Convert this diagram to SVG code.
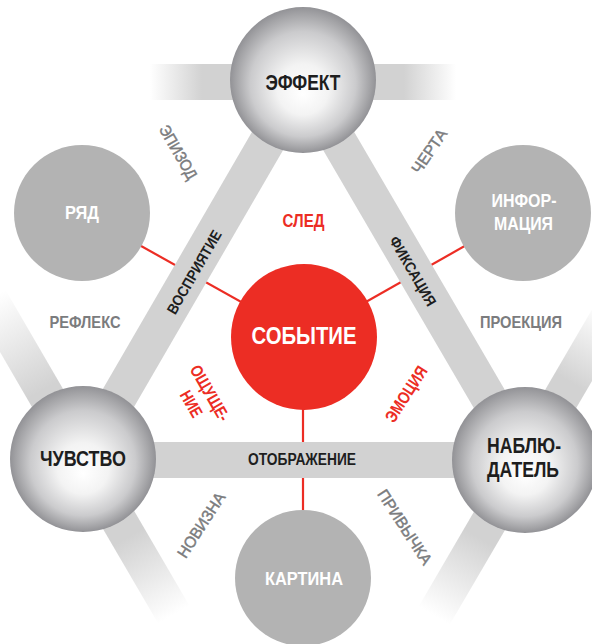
<svg xmlns="http://www.w3.org/2000/svg" width="592" height="644" viewBox="0 0 592 644">
<style>
  text { font-family: "Liberation Sans Narrow", "Liberation Sans", Arial, sans-serif; text-anchor: middle; }
  .band { stroke: #d2d2d2; stroke-width: 36; fill: none; }
  .redline { stroke: #ec2d24; stroke-width: 2.2; fill: none; }
  .sphere { fill: url(#sph); }
  .gray { fill: #b3b3b3; }
  .red { fill: #ec2d24; }
  .dark { fill: #1e1e1e; font-weight: bold; }
  .white { fill: #ffffff; font-weight: bold; }
  .rlab { fill: #ec2d24; font-weight: bold; }
  .glab { fill: #7b7c7e; stroke: #7b7c7e; stroke-width: 0.45; }
  .glabb { fill: #7b7c7e; font-weight: bold; }
</style>
<defs>
  <radialGradient id="sph" cx="50%" cy="50%" r="50%" fx="50%" fy="60%">
    <stop offset="0" stop-color="#ffffff"/>
    <stop offset="0.35" stop-color="#f3f3f3"/>
    <stop offset="0.72" stop-color="#cbcbcd"/>
    <stop offset="0.92" stop-color="#a3a3a6"/>
    <stop offset="1" stop-color="#929296"/>
  </radialGradient>
  <linearGradient id="gTop" gradientUnits="userSpaceOnUse" x1="150" y1="0" x2="456" y2="0">
    <stop offset="0" stop-color="#d2d2d2" stop-opacity="0"/>
    <stop offset="0.17" stop-color="#d2d2d2" stop-opacity="1"/>
    <stop offset="0.83" stop-color="#d2d2d2" stop-opacity="1"/>
    <stop offset="1" stop-color="#d2d2d2" stop-opacity="0"/>
  </linearGradient>
  <linearGradient id="gLU" gradientUnits="userSpaceOnUse" x1="83" y1="459" x2="-17" y2="287">
    <stop offset="0.4" stop-color="#d2d2d2" stop-opacity="1"/>
    <stop offset="0.93" stop-color="#d2d2d2" stop-opacity="0"/>
  </linearGradient>
  <linearGradient id="gLD" gradientUnits="userSpaceOnUse" x1="83" y1="459" x2="184" y2="632">
    <stop offset="0.45" stop-color="#d2d2d2" stop-opacity="1"/>
    <stop offset="0.9" stop-color="#d2d2d2" stop-opacity="0"/>
  </linearGradient>
  <linearGradient id="gRU" gradientUnits="userSpaceOnUse" x1="525" y1="460" x2="626" y2="287">
    <stop offset="0.45" stop-color="#d2d2d2" stop-opacity="1"/>
    <stop offset="0.85" stop-color="#d2d2d2" stop-opacity="0"/>
  </linearGradient>
  <linearGradient id="gRD" gradientUnits="userSpaceOnUse" x1="525" y1="460" x2="424" y2="633">
    <stop offset="0.45" stop-color="#d2d2d2" stop-opacity="1"/>
    <stop offset="0.9" stop-color="#d2d2d2" stop-opacity="0"/>
  </linearGradient>
</defs>
<rect x="0" y="0" width="592" height="644" fill="#ffffff"/>

<g id="connectors">
  <line class="redline" x1="304" y1="337" x2="82" y2="213"/>
  <line class="redline" x1="304" y1="337" x2="523" y2="213"/>
  <line class="redline" x1="303" y1="337" x2="303" y2="578"/>
  <line x1="150" y1="82" x2="456" y2="82" stroke="url(#gTop)" stroke-width="36"/>
  <line x1="83" y1="459" x2="-17" y2="287" stroke="url(#gLU)" stroke-width="36"/>
  <line x1="83" y1="459" x2="184" y2="632" stroke="url(#gLD)" stroke-width="36"/>
  <line x1="525" y1="460" x2="626" y2="287" stroke="url(#gRU)" stroke-width="36"/>
  <line x1="525" y1="460" x2="424" y2="633" stroke="url(#gRD)" stroke-width="36"/>
  <line class="band" x1="303" y1="80" x2="83" y2="459"/>
  <line class="band" x1="303" y1="80" x2="525" y2="460"/>
  <line class="band" x1="83" y1="460" x2="525" y2="460"/>
</g>

<g id="edge-labels">
  <text class="dark" font-size="15" transform="translate(194,272) rotate(-60)" x="0" y="5.4" textLength="94" lengthAdjust="spacingAndGlyphs">ВОСПРИЯТИЕ</text>
  <text class="dark" font-size="15" transform="translate(413,271) rotate(60)" x="0" y="5.4" textLength="78" lengthAdjust="spacingAndGlyphs">ФИКСАЦИЯ</text>
  <text class="dark" font-size="16" x="302" y="465" textLength="108" lengthAdjust="spacingAndGlyphs">ОТОБРАЖЕНИЕ</text>
  <text class="rlab" font-size="18" x="303.5" y="227" textLength="42" lengthAdjust="spacingAndGlyphs">СЛЕД</text>
  <g transform="translate(210,393) rotate(60)">
    <text class="rlab" font-size="17" x="0" y="6" textLength="62" lengthAdjust="spacingAndGlyphs">ОЩУЩЕ-</text>
    <text class="rlab" font-size="17" x="0" y="27.5" textLength="28" lengthAdjust="spacingAndGlyphs">НИЕ</text>
  </g>
  <text class="rlab" font-size="17" transform="translate(406,394) rotate(-57)" x="0" y="6" textLength="63" lengthAdjust="spacingAndGlyphs">ЭМОЦИЯ</text>
  <text class="glab" font-size="16" transform="translate(178.5,152) rotate(60)" x="0" y="5.8" textLength="60" lengthAdjust="spacingAndGlyphs">ЭПИЗОД</text>
  <text class="glab" font-size="16" transform="translate(429,151) rotate(-56)" x="0" y="5.8" textLength="50" lengthAdjust="spacingAndGlyphs">ЧЕРТА</text>
  <text class="glab" font-size="16" transform="translate(201,525) rotate(-57)" x="0" y="5.8" textLength="74" lengthAdjust="spacingAndGlyphs">НОВИЗНА</text>
  <text class="glab" font-size="16" transform="translate(405,527) rotate(57)" x="0" y="5.8" textLength="86" lengthAdjust="spacingAndGlyphs">ПРИВЫЧКА</text>
  <text class="glabb" font-size="17" x="85" y="328" textLength="71" lengthAdjust="spacingAndGlyphs">РЕФЛЕКС</text>
  <text class="glabb" font-size="17" x="521" y="328" textLength="82" lengthAdjust="spacingAndGlyphs">ПРОЕКЦИЯ</text>
</g>

<g id="node-effekt">
  <circle class="sphere" cx="303" cy="80" r="73"/>
  <text class="dark" font-size="22" x="303" y="90" textLength="75" lengthAdjust="spacingAndGlyphs">ЭФФЕКТ</text>
</g>
<g id="node-chuvstvo">
  <circle class="sphere" cx="83" cy="459" r="73"/>
  <text class="dark" font-size="22" x="83" y="466" textLength="86" lengthAdjust="spacingAndGlyphs">ЧУВСТВО</text>
</g>
<g id="node-nabludatel">
  <circle class="sphere" cx="525" cy="460" r="73"/>
  <text class="dark" font-size="22" x="524" y="453" textLength="74" lengthAdjust="spacingAndGlyphs">НАБЛЮ-</text>
  <text class="dark" font-size="22" x="523" y="477" textLength="72" lengthAdjust="spacingAndGlyphs">ДАТЕЛЬ</text>
</g>
<g id="node-ryad">
  <circle class="gray" cx="82" cy="213" r="68"/>
  <text class="white" font-size="18" x="82" y="219" textLength="34" lengthAdjust="spacingAndGlyphs">РЯД</text>
</g>
<g id="node-informaciya">
  <circle class="gray" cx="523" cy="213" r="68"/>
  <text class="white" font-size="19" x="524" y="207" textLength="65" lengthAdjust="spacingAndGlyphs">ИНФОР-</text>
  <text class="white" font-size="19" x="523.5" y="230" textLength="59" lengthAdjust="spacingAndGlyphs">МАЦИЯ</text>
</g>
<g id="node-kartina">
  <circle class="gray" cx="303" cy="578" r="68"/>
  <text class="white" font-size="18" x="304" y="585" textLength="78" lengthAdjust="spacingAndGlyphs">КАРТИНА</text>
</g>
<g id="node-sobytie">
  <circle class="red" cx="304" cy="337" r="73"/>
  <text class="white" font-size="24" x="304" y="344" textLength="105" lengthAdjust="spacingAndGlyphs">СОБЫТИЕ</text>
</g>
</svg>
